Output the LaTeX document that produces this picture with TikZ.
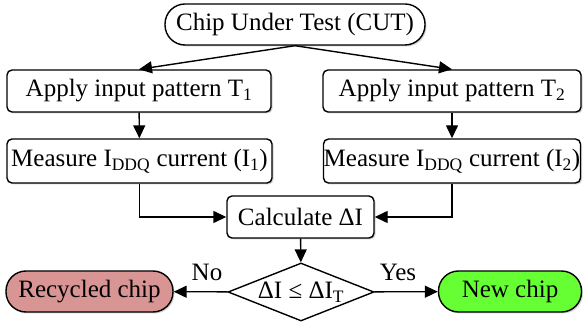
\documentclass[tikz,border=0pt]{standalone}
\usepackage{fontspec}
\setmainfont{Liberation Serif}
\usetikzlibrary{arrows.meta,shapes.geometric,shadows}
\definecolor{recycled}{RGB}{217,149,148}
\definecolor{newchip}{RGB}{102,255,51}
\tikzset{
    box/.style={shape=rectangle,draw=black,fill=white,line width=1.4pt,rounded corners=5pt,
        minimum height=42pt,inner sep=0pt,
        drop shadow={opacity=0.35,shadow xshift=1.5pt,shadow yshift=-1.5pt}},
    terminal/.style={box,rounded corners=20pt,minimum height=41pt},
    decision/.style={shape=diamond,draw=black,fill=white,line width=1.4pt,aspect=2.52,
        minimum width=146pt,minimum height=58pt,inner sep=0pt},
    flow/.style={-{Triangle[length=13pt,width=12pt]},line width=1.4pt}
}
\begin{document}
\begin{tikzpicture}[x=1pt,y=1pt,font=\fontsize{25}{28}\selectfont]
            \useasboundingbox (0,0) rectangle (585,323);
            \node[terminal,minimum width=260pt] (cut) at (295,298.5) {Chip Under Test (CUT)};
            \node[box,minimum width=264pt] (t1) at (139,232) {Apply input pattern T\textsubscript{1}};
            \node[box,minimum width=258pt] (t2) at (452,232) {Apply input pattern T\textsubscript{2}};
            \node[box,minimum width=265pt,minimum height=44pt] (m1) at (139.5,162) {Measure I\textsubscript{DDQ} current (I\textsubscript{1})};
            \node[box,minimum width=257pt,minimum height=44pt] (m2) at (452,162) {Measure I\textsubscript{DDQ} current (I\textsubscript{2})};
            \node[box,minimum width=147pt] (calc) at (300.5,106) {Calculate ΔI};
            \node[decision] (dec) at (301,31) {\raisebox{-2pt}{ΔI ≤ ΔI\textsubscript{T}}};
            \node[terminal,fill=recycled,minimum width=167pt] (rec) at (89.5,31.5) {Recycled chip};
            \node[terminal,fill=newchip,minimum width=143pt] (new) at (510,31.5) {New chip};
            \node (no) at (207,51) {No};
            \node (yes) at (398,51) {Yes};

            \path [flow] (cut.south) edge (t1.north);
            \path [flow] (cut.south) edge (t2.north);
            \path [flow] (t1) edge (m1);
            \path [flow] (t2) edge (m2);
            \draw [flow] (m1.south) |- (calc.west);
            \draw [flow] (m2.south) |- (calc.east);
            \path [flow] (calc) edge (dec);
            \path [flow] (dec) edge (rec);
            \path [flow] (dec) edge (new);
        \end{tikzpicture}
\end{document}
